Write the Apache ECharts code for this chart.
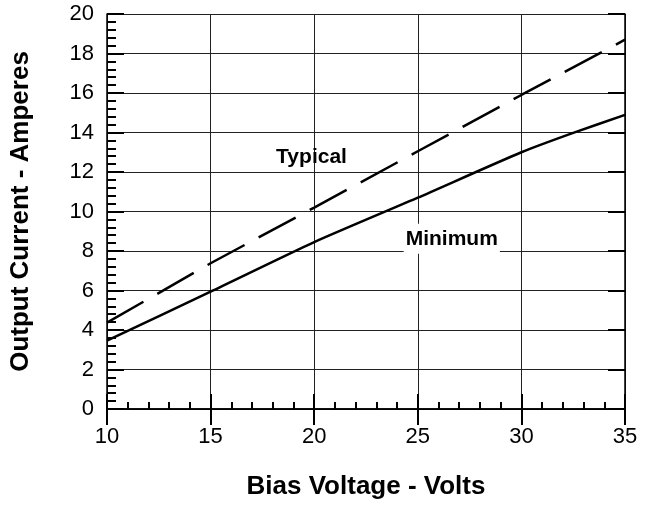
<!DOCTYPE html>
<html lang="en">
<head>
  <meta charset="UTF-8">
  <title>Output Current vs Bias Voltage</title>
  <style>
    html, body { margin: 0; width: 100%; height: 100%; background: #fff; }
    #chart { width: 656px; height: 506px; }
  </style>
</head>
<body>
  <div id="chart"></div>
  <script src="https://cdn.jsdelivr.net/npm/echarts@6/dist/echarts.min.js"></script>
  <script>
    // values
    var voltsTypical = [10, 15, 20, 25, 30, 35];
    var ampsTypical = [4.37, 7.38, 10.2, 13.05, 15.9, 18.7];
    var voltsMinimum = [10, 15, 20, 25, 30, 32.5, 35];
    var ampsMinimum = [3.46, 5.94, 8.45, 10.7, 13.0, 13.98, 14.89];
    // curve labels: text, volts, amps
    var labelTypical = ['Typical', 19.87, 12.73];
    var labelMinimum = ['Minimum', 26.64, 8.62];

    function pairs(xs, ys) {
      return xs.map(function (x, i) { return [x, ys[i]]; });
    }

    var font = 'Liberation Sans, Arial, sans-serif';
    var chart = echarts.init(document.getElementById('chart'));

    var option = {
      animation: false,
      backgroundColor: '#fff',
      grid: { left: 106, right: 31, top: 14, bottom: 97 },
      xAxis: [{
        type: 'value', min: 10, max: 35, interval: 5,
        name: 'Bias Voltage - Volts', nameLocation: 'middle', nameGap: 65,
        nameTextStyle: { fontFamily: font, fontWeight: 'bold', fontSize: 26, color: '#000' },
        axisLine: { lineStyle: { color: '#000', width: 1.5 } },
        axisTick: { inside: true, length: 15, lineStyle: { color: '#000', width: 2 } },
        minorTick: { show: true, splitNumber: 5, length: 7, lineStyle: { color: '#000', width: 2 } },
        axisLabel: { fontFamily: font, fontSize: 22, color: '#000', margin: 17 },
        splitLine: { show: true, lineStyle: { color: '#222', width: 1 } }
      }, {
        type: 'value', min: 10, max: 35, interval: 5, position: 'top',
        axisLine: { show: true, lineStyle: { color: '#000', width: 1.5 } },
        axisTick: { inside: true, length: 16, lineStyle: { color: '#000', width: 2 } },
        axisLabel: { show: false },
        splitLine: { show: false }
      }],
      yAxis: [{
        type: 'value', min: 0, max: 20, interval: 2,
        name: 'Output Current - Amperes', nameLocation: 'middle', nameGap: 73,
        nameTextStyle: { fontFamily: font, fontWeight: 'bold', fontSize: 26, color: '#000' },
        axisLine: { show: true, lineStyle: { color: '#000', width: 1.5 } },
        axisTick: { show: true, inside: true, length: 17, lineStyle: { color: '#000', width: 2 } },
        minorTick: { show: true, splitNumber: 5, length: 9, lineStyle: { color: '#000', width: 2 } },
        axisLabel: { fontFamily: font, fontSize: 22, color: '#000', margin: 13 },
        splitLine: { show: true, lineStyle: { color: '#222', width: 1 } }
      }, {
        type: 'value', min: 0, max: 20, interval: 2, position: 'right',
        axisLine: { show: true, lineStyle: { color: '#000', width: 1.5 } },
        axisTick: { show: true, inside: true, length: 17, lineStyle: { color: '#000', width: 2 } },
        axisLabel: { show: false },
        splitLine: { show: false }
      }],
      series: [{
        name: 'Typical',
        type: 'line',
        data: pairs(voltsTypical, ampsTypical),
        showSymbol: false,
        lineStyle: { color: '#000', width: 2.5, type: [42, 16] },
        markPoint: {
          symbolSize: 0,
          label: {
            show: true, formatter: labelTypical[0], position: 'inside',
            fontFamily: font, fontWeight: 'bold', fontSize: 21, color: '#000'
          },
          data: [{ coord: [labelTypical[1], labelTypical[2]] }]
        }
      }, {
        name: 'Minimum',
        type: 'line',
        data: pairs(voltsMinimum, ampsMinimum),
        showSymbol: false,
        smooth: 0.2,
        lineStyle: { color: '#000', width: 2.5 },
        markPoint: {
          symbolSize: 0,
          label: {
            show: true, formatter: labelMinimum[0], position: 'inside',
            fontFamily: font, fontWeight: 'bold', fontSize: 21, color: '#000',
            backgroundColor: '#fff', padding: [5, 2, 4, 2]
          },
          data: [{ coord: [labelMinimum[1], labelMinimum[2]] }]
        }
      }]
    };

    chart.setOption(option);
  </script>
</body>
</html>
